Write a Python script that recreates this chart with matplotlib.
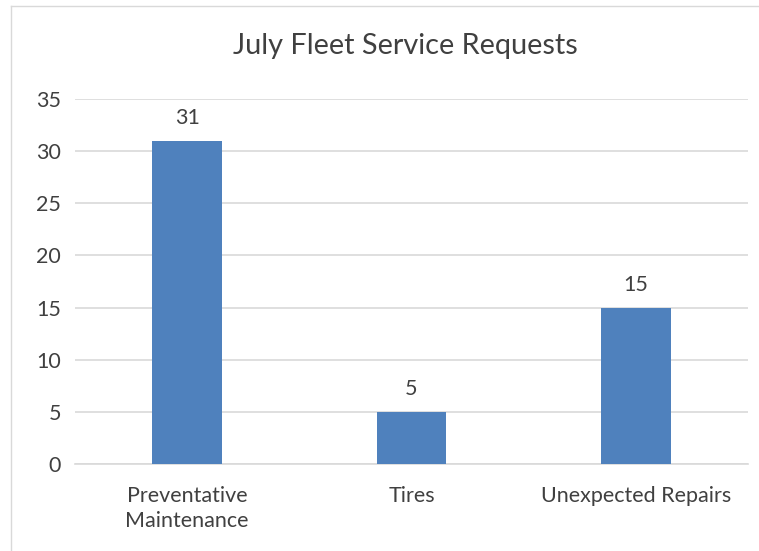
import numpy as np
import matplotlib.pyplot as plt
from matplotlib.lines import Line2D

# donnees du graphique
categories = ['Preventative\nMaintenance', 'Tires', 'Unexpected Repairs']
requests = [31, 5, 15]
yticks = [0, 5, 10, 15, 20, 25, 30, 35]

plt.rcParams['font.family'] = ['Lato', 'DejaVu Sans']
text_col = '#404040'

fig = plt.figure(figsize=(7.59, 5.51), dpi=100)
ax = fig.add_axes([75 / 759, 1 - 464 / 551, 673 / 759, 365 / 551])

x = np.arange(len(categories))
bars = ax.bar(x, requests, width=0.31, color='#4f81bd', zorder=3)

# etiquettes des valeurs
for b, v in zip(bars, requests):
    ax.annotate(str(v), (b.get_x() + b.get_width() / 2, v), xytext=(0, 9),
                textcoords='offset points', ha='center', va='bottom',
                fontsize=15.5, color=text_col)

ax.set_xlim(-0.5, len(categories) - 0.5)
ax.set_ylim(0, 35)
ax.set_yticks(yticks)
ax.set_xticks(x)
ax.set_xticklabels(categories, fontsize=15.5, color=text_col, linespacing=1.3)
ax.tick_params(axis='y', labelsize=15.5, labelcolor=text_col, length=0, pad=10)
ax.tick_params(axis='x', length=0, pad=16)
ax.grid(axis='y', color='#d9d9d9', linewidth=1.2, zorder=0)
for s in ['top', 'right', 'left']:
    ax.spines[s].set_visible(False)
ax.spines['bottom'].set_color('#d9d9d9')
ax.spines['bottom'].set_linewidth(1.2)

fig.text(405 / 759, 1 - 46 / 551, 'July Fleet Service Requests', ha='center',
         va='center', fontsize=20.8, color=text_col)

# bordure du graphique (gauche et haut)
fig.add_artist(Line2D([11 / 759, 11 / 759], [0, 1 - 6 / 551], transform=fig.transFigure,
                      color='#d9d9d9', linewidth=1))
fig.add_artist(Line2D([11 / 759, 1], [1 - 6 / 551, 1 - 6 / 551], transform=fig.transFigure,
                      color='#d9d9d9', linewidth=1))

fig.savefig('out.png', dpi=100, facecolor='white')
